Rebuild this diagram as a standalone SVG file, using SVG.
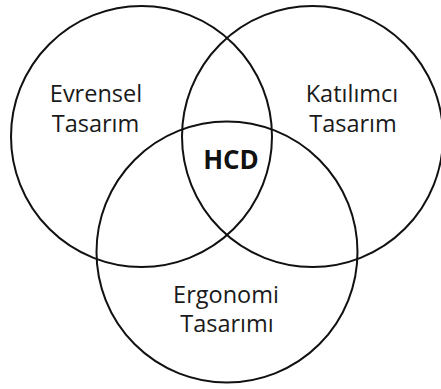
<svg xmlns="http://www.w3.org/2000/svg" width="441" height="389" viewBox="0 0 441 389">
<style>
.c{fill:none;stroke:#111;stroke-width:2}
.t{font-family:"Open Sans","Noto Sans",sans-serif;font-size:23.5px;fill:#1a1a1a;text-anchor:middle}
.b{font-family:"Open Sans","Noto Sans",sans-serif;font-size:26px;font-weight:bold;fill:#111;text-anchor:middle}
</style>
<rect width="441" height="389" fill="#fff"/>
<g id="evrensel">
<circle class="c" cx="141.5" cy="136.5" r="130.5"/>
<text class="t" x="96" y="101.7">Evrensel</text>
<text class="t" x="95.5" y="131.7">Tasarım</text>
</g>
<g id="katilimci">
<circle class="c" cx="312.5" cy="136.5" r="130.5"/>
<text class="t" x="352" y="101.7">Katılımcı</text>
<text class="t" x="353" y="131.7">Tasarım</text>
</g>
<g id="ergonomi">
<circle class="c" cx="227" cy="252" r="130.5"/>
<text class="t" x="226" y="303.3">Ergonomi</text>
<text class="t" x="227" y="332.3">Tasarımı</text>
</g>
<g id="hcd">
<text class="b" x="231" y="169.3">HCD</text>
</g>
</svg>
